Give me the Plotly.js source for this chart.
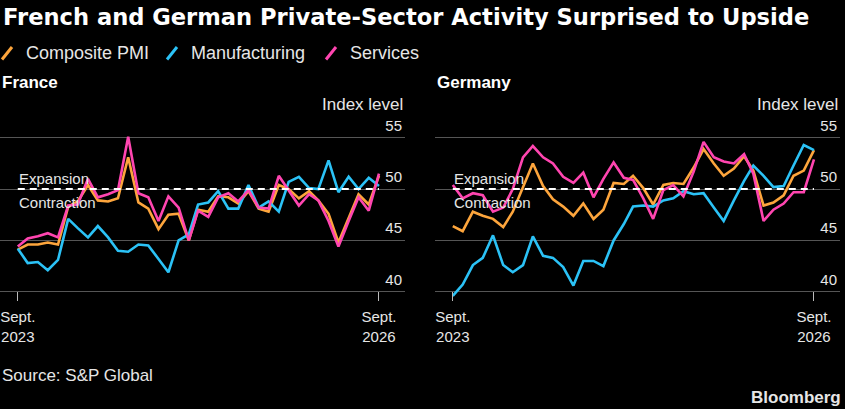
<!DOCTYPE html>
<html>
<head>
<meta charset="utf-8">
<script src="https://cdn.plot.ly/plotly-3.0.1.min.js"></script>
<style>
html,body{margin:0;padding:0;background:#000;}
#chart{width:845px;height:409px;}
</style>
</head>
<body>
<div id="chart"></div>
<script>
// ---- Data ----
var months = [
  '2023-09-01','2023-10-01','2023-11-01','2023-12-01',
  '2024-01-01','2024-02-01','2024-03-01','2024-04-01','2024-05-01','2024-06-01',
  '2024-07-01','2024-08-01','2024-09-01','2024-10-01','2024-11-01','2024-12-01',
  '2025-01-01','2025-02-01','2025-03-01','2025-04-01','2025-05-01','2025-06-01',
  '2025-07-01','2025-08-01','2025-09-01','2025-10-01','2025-11-01','2025-12-01',
  '2026-01-01','2026-02-01','2026-03-01','2026-04-01','2026-05-01','2026-06-01',
  '2026-07-01','2026-08-01','2026-09-01'
];
var tickLabels = ['Sept.<br>2023', 'Sept.<br>2026'];
var seriesNames = ['Composite PMI', 'Manufacturing', 'Services'];

var franceComposite = [44.1, 44.6, 44.6, 44.8, 44.6, 48.3, 48.8, 50.4, 48.9, 48.8, 49.1, 53.1, 48.7, 48.1, 46.1, 47.5, 47.6, 45.0, 48.0, 47.8, 49.3, 49.2, 48.6, 49.8, 48.1, 47.8, 50.4, 50.0, 49.1, 49.8, 48.9, 47.6, 44.8, 47.2, 49.5, 48.5, 51.3];
var franceManufacturing = [44.2, 42.8, 42.9, 42.1, 43.1, 47.1, 46.2, 45.3, 46.4, 45.3, 44.0, 43.9, 44.6, 44.5, 43.2, 41.9, 45.0, 45.6, 48.5, 48.7, 49.8, 48.1, 48.1, 50.4, 48.2, 48.8, 47.8, 50.7, 51.2, 50.1, 50.0, 52.8, 49.7, 51.2, 50.0, 51.1, 50.3];
var franceServices = [44.4, 45.2, 45.4, 45.7, 45.3, 48.4, 48.5, 51.0, 49.2, 49.5, 49.9, 55.1, 49.6, 49.2, 46.9, 49.3, 48.2, 45.0, 47.9, 47.3, 49.2, 49.6, 48.8, 49.9, 48.2, 48.1, 51.3, 49.9, 48.4, 49.5, 48.9, 46.9, 44.4, 46.9, 49.2, 47.9, 51.5];

var germanyComposite = [46.4, 45.9, 47.8, 47.4, 47.1, 46.3, 47.8, 50.2, 52.5, 50.3, 49.0, 48.3, 47.4, 48.6, 47.1, 48.0, 50.6, 50.5, 51.3, 50.1, 48.5, 50.4, 50.6, 50.5, 52.1, 53.9, 52.5, 51.3, 52.0, 53.2, 51.8, 48.4, 48.7, 49.4, 51.3, 51.8, 53.8];
var germanyManufacturing = [39.6, 40.7, 42.6, 43.3, 45.5, 42.6, 41.9, 42.6, 45.4, 43.5, 43.3, 42.4, 40.6, 43.0, 43.0, 42.5, 45.0, 46.6, 48.3, 48.4, 48.3, 48.9, 49.1, 49.8, 49.5, 49.6, 48.2, 46.9, 48.9, 50.8, 52.3, 51.3, 50.2, 50.3, 52.3, 54.3, 53.8];
var germanyServices = [50.4, 49.1, 49.6, 49.4, 47.8, 48.2, 50.0, 53.1, 54.2, 53.1, 52.5, 51.2, 50.6, 51.6, 49.2, 51.0, 52.6, 51.1, 50.9, 49.1, 47.1, 49.9, 50.4, 49.3, 51.7, 54.6, 53.1, 52.7, 52.5, 53.4, 51.5, 46.9, 48.0, 48.6, 49.7, 49.7, 52.9];

var yTicks = [40, 45, 50, 55];
var threshold = 50;

// ---- Styles ----
var colors = ['#fda53c', '#2bc2f6', '#ff45b0'];
var FONT = '"Liberation Sans", Arial, Helvetica, sans-serif';
var TFONT = '"DejaVu Sans", Verdana, sans-serif';
var W = 845, H = 409;
var M = {l: 0, r: 5, t: 106.5, b: 108.4};
var plotW = W - M.l - M.r, plotH = H - M.t - M.b;
function px(x) { return (x - M.l) / plotW; }
function py(y) { return (H - M.b - y) / plotH; }

var xRange = ['2023-07-09', '2026-11-19'];
var yRange = [39.1, 58];

function mk(x, y, i, xa, ya) {
  return {
    x: x, y: y, type: 'scatter', mode: 'lines', name: seriesNames[i],
    xaxis: xa, yaxis: ya, showlegend: false, hoverinfo: 'skip',
    line: {color: colors[i], width: 2.6}
  };
}

var traces = [
  mk(months, franceComposite, 0, 'x', 'y'),
  mk(months, franceManufacturing, 1, 'x', 'y'),
  mk(months, franceServices, 2, 'x', 'y'),
  mk(months, germanyComposite, 0, 'x2', 'y2'),
  mk(months, germanyManufacturing, 1, 'x2', 'y2'),
  mk(months, germanyServices, 2, 'x2', 'y2')
];

function xAxis(domain, anchor) {
  return {
    domain: domain, anchor: anchor, type: 'date', range: xRange,
    tickvals: [months[0], months[months.length - 1]], ticktext: tickLabels,
    ticks: 'inside', ticklen: 9, tickwidth: 1, tickcolor: '#bbbbbb',
    showgrid: false, showline: false, zeroline: false,
    tickfont: {family: FONT, size: 15, color: '#e6e6e6'},
    ticklabelstandoff: 5, fixedrange: true
  };
}
function yAxis(anchor) {
  return {
    anchor: anchor, side: 'right', range: yRange, tickvals: yTicks,
    ticklabelposition: 'inside top', ticks: '', showline: false,
    zeroline: false, gridcolor: '#555555', gridwidth: 1,
    ticklabelshift: -2,
    tickfont: {family: FONT, size: 15, color: '#e6e6e6'}, fixedrange: true
  };
}

var fDom = [0, px(405)], gDom = [px(435), 1];

var annotations = [];
function txt(t, x, y, opts) {
  var a = {text: t, x: x, y: y, xref: 'paper', yref: 'paper', showarrow: false,
           xanchor: 'left', yanchor: 'middle',
           font: {family: FONT, size: 18, color: '#e6e6e6'}};
  for (var k in opts) a[k] = opts[k];
  annotations.push(a);
}
txt('<b>French and German Private-Sector Activity Surprised to Upside</b>', px(1), py(16),
    {font: {family: TFONT, size: 22.6, color: '#ffffff'}});
var legX = [24, 189, 348];
for (var i = 0; i < 3; i++) txt(seriesNames[i], px(legX[i]), py(52), {});
txt('<b>France</b>', px(0), py(82), {font: {family: FONT, size: 17, color: '#ffffff'}});
txt('<b>Germany</b>', px(435), py(82), {font: {family: FONT, size: 17, color: '#ffffff'}});
txt('Index level', px(405), py(104), {xanchor: 'right', font: {family: FONT, size: 17, color: '#e6e6e6'}});
txt('Index level', 1, py(104), {xanchor: 'right', font: {family: FONT, size: 17, color: '#e6e6e6'}});
txt('Source: S&P Global', px(0), py(375), {font: {family: FONT, size: 17, color: '#e6e6e6'}});
txt('<b>Bloomberg</b>', px(843), py(397), {xanchor: 'right', font: {family: FONT, size: 17, color: '#e6e6e6'}});

[['x', 'y'], ['x2', 'y2']].forEach(function (ax) {
  annotations.push({text: 'Expansion', x: months[0], y: threshold, xref: ax[0], yref: ax[1],
    showarrow: false, xanchor: 'left', yanchor: 'middle', yshift: 11, xshift: -1,
    font: {family: FONT, size: 15, color: '#e6e6e6'}});
  annotations.push({text: 'Contraction', x: months[0], y: threshold, xref: ax[0], yref: ax[1],
    showarrow: false, xanchor: 'left', yanchor: 'middle', yshift: -13, xshift: -1,
    font: {family: FONT, size: 15, color: '#e6e6e6'}});
});

var shapes = [];
[['x', 'y'], ['x2', 'y2']].forEach(function (ax) {
  shapes.push({type: 'line', xref: ax[0], yref: ax[1], x0: months[0], x1: months[months.length - 1],
    y0: threshold, y1: threshold, line: {color: '#ffffff', width: 2, dash: '7px,5px'}});
});
var slashX = [2, 167, 326];
for (var j = 0; j < 3; j++) {
  shapes.push({type: 'line', xref: 'paper', yref: 'paper',
    x0: px(slashX[j]), y0: py(59), x1: px(slashX[j] + 10), y1: py(46.5),
    line: {color: colors[j], width: 3}});
}

var layout = {
  width: W, height: H, margin: M,
  paper_bgcolor: '#000000', plot_bgcolor: '#000000',
  showlegend: false,
  xaxis: xAxis(fDom, 'y'), yaxis: yAxis('x'),
  xaxis2: xAxis(gDom, 'y2'), yaxis2: yAxis('x2'),
  annotations: annotations, shapes: shapes,
  font: {family: FONT, color: '#e6e6e6'}
};

Plotly.newPlot('chart', traces, layout, {displayModeBar: false, staticPlot: true});
</script>
</body>
</html>
